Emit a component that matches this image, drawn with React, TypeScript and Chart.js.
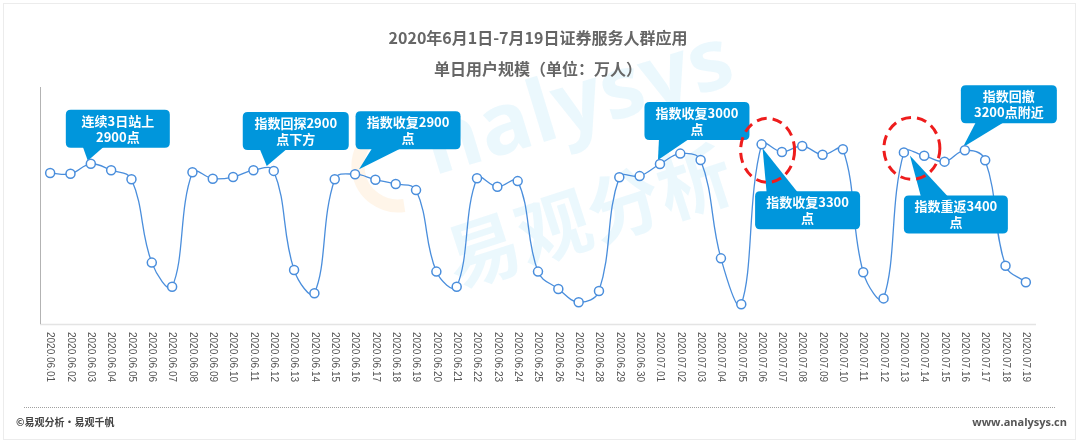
import React, { useEffect, useRef } from "react";
import { Chart, registerables } from "chart.js";

Chart.register(...registerables);

// ---------------- data ----------------
const categories = [
  "2020.06.01", "2020.06.02", "2020.06.03", "2020.06.04", "2020.06.05", "2020.06.06", "2020.06.07",
  "2020.06.08", "2020.06.09", "2020.06.10", "2020.06.11", "2020.06.12", "2020.06.13", "2020.06.14",
  "2020.06.15", "2020.06.16", "2020.06.17", "2020.06.18", "2020.06.19", "2020.06.20", "2020.06.21",
  "2020.06.22", "2020.06.23", "2020.06.24", "2020.06.25", "2020.06.26", "2020.06.27", "2020.06.28",
  "2020.06.29", "2020.06.30", "2020.07.01", "2020.07.02", "2020.07.03", "2020.07.04", "2020.07.05",
  "2020.07.06", "2020.07.07", "2020.07.08", "2020.07.09", "2020.07.10", "2020.07.11", "2020.07.12",
  "2020.07.13", "2020.07.14", "2020.07.15", "2020.07.16", "2020.07.17", "2020.07.18", "2020.07.19",
];

// 单日用户规模（万人）
const dailyUsers = [
  637, 634, 676, 649, 611, 259, 157,
  640, 613, 620, 649, 646, 228, 130,
  611, 632, 609, 591, 565, 221, 157,
  615, 579, 603, 221, 148, 92, 139,
  619, 624, 675, 719, 692, 277, 83,
  758, 726, 751, 714, 737, 218, 108,
  724, 710, 685, 733, 691, 246, 176,
];

const titleText = "2020年6月1日-7月19日证券服务人群应用";
const subtitleText = "单日用户规模（单位：万人）";

const calloutTexts = [
  ["连续3日站上", "2900点"],
  ["指数回探2900", "点下方"],
  ["指数收复2900", "点"],
  ["指数收复3000", "点"],
  ["指数回撤", "3200点附近"],
  ["指数收复3300", "点"],
  ["指数重返3400", "点"],
];
const calloutDates = [
  "2020.06.03", "2020.06.12", "2020.06.16", "2020.07.01",
  "2020.07.16", "2020.07.06", "2020.07.13",
];
const circledDates = ["2020.07.06", "2020.07.13"];

const footerLeft = "©易观分析·易观千帆";
const footerRight = "www.analysys.cn";
const watermarkLatin = "nalysys";
const watermarkCJK = "易观分析";

// ---------------- layout / style ----------------
const W = 1080;
const H = 445;
const LINE_COLOR = "#4a8edc";
const BOX_COLOR = "#0096dc";
const CJK = '"Noto Sans CJK SC", "Noto Sans", sans-serif';

// box offsets relative to the target point
const calloutLayout = [
  { cx: 27, top: -54, w: 104, side: "bottom", base: [-8, 13], tip: [-3, -3] },
  { cx: 22, top: -59, w: 106, side: "bottom", base: [-14, 13], tip: [-7, -5] },
  { cx: 53, top: -63, w: 105, side: "bottom", base: [17, 46], tip: [4, -5] },
  { cx: 37, top: -62, w: 105, side: "bottom", base: [-1, 29], tip: [-2, -4] },
  { cx: 44, top: -65, w: 96, side: "bottom", base: [11, 39], tip: [-2, -3] },
  { cx: 46, top: 47, w: 105, side: "top", base: [5, 36], tip: [1, 4] },
  { cx: 52, top: 43, w: 104, side: "top", base: [17, 44], tip: [6, 3] },
];
const BOX_H = 38;
const circleLayout = [
  { dx: 6, dy: 6, rx: 27, ry: 32 },
  { dx: 8, dy: -4, rx: 28, ry: 31 },
];

function roundRect(ctx: CanvasRenderingContext2D, x: number, y: number, w: number, h: number, r: number) {
  ctx.beginPath();
  ctx.moveTo(x + r, y);
  ctx.lineTo(x + w - r, y);
  ctx.quadraticCurveTo(x + w, y, x + w, y + r);
  ctx.lineTo(x + w, y + h - r);
  ctx.quadraticCurveTo(x + w, y + h, x + w - r, y + h);
  ctx.lineTo(x + r, y + h);
  ctx.quadraticCurveTo(x, y + h, x, y + h - r);
  ctx.lineTo(x, y + r);
  ctx.quadraticCurveTo(x, y, x + r, y);
  ctx.closePath();
}

const decorPlugin = {
  id: "decor",
  beforeDraw(chart: any) {
    const ctx: CanvasRenderingContext2D = chart.ctx;
    const area = chart.chartArea;
    ctx.save();
    ctx.fillStyle = "#ffffff";
    ctx.fillRect(0, 0, W, H);
    // frame
    ctx.strokeStyle = "#ececec";
    ctx.lineWidth = 1;
    ctx.strokeRect(3.5, 3.5, W - 8, H - 9);

    // watermark
    ctx.strokeStyle = "rgba(255,160,40,0.10)";
    ctx.lineWidth = 13;
    ctx.beginPath();
    ctx.arc(398, 166, 40, Math.PI * 0.45, Math.PI * 1.2);
    ctx.stroke();

    ctx.fillStyle = "rgba(0,160,233,0.08)";
    ctx.save();
    ctx.translate(452, 153);
    ctx.rotate((-17 * Math.PI) / 180);
    ctx.font = 'bold 86px "Open Sans", "DejaVu Sans", sans-serif';
    ctx.textBaseline = "middle";
    ctx.textAlign = "left";
    ctx.fillText(watermarkLatin, -24, -8);
    ctx.restore();

    ctx.save();
    ctx.translate(483, 250);
    ctx.rotate((-18 * Math.PI) / 180);
    ctx.font = "bold 74px " + CJK;
    ctx.textBaseline = "middle";
    ctx.textAlign = "left";
    ctx.fillText(watermarkCJK, -37, 0);
    ctx.restore();

    // axes lines
    ctx.strokeStyle = "#e4e4e4";
    ctx.lineWidth = 1.5;
    ctx.beginPath();
    ctx.moveTo(area.left, area.bottom + 0.5);
    ctx.lineTo(area.right, area.bottom + 0.5);
    ctx.stroke();
    ctx.strokeStyle = "#b3b3b3";
    ctx.lineWidth = 1;
    ctx.beginPath();
    ctx.moveTo(area.left + 0.5, area.top);
    ctx.lineTo(area.left + 0.5, area.bottom);
    ctx.stroke();
    ctx.restore();
  },
  afterDatasetDraw(chart: any, args: any) {
    if (args.index !== 0) return;
    const ctx: CanvasRenderingContext2D = chart.ctx;
    const xs = chart.scales.x;
    const ys = chart.scales.y;
    ctx.save();
    calloutDates.forEach((d, k) => {
      const i = categories.indexOf(d);
      const px = xs.getPixelForValue(i);
      const py = ys.getPixelForValue(dailyUsers[i]);
      const L = calloutLayout[k];
      const left = px + L.cx - L.w / 2;
      const top = py + L.top;
      ctx.fillStyle = BOX_COLOR;
      roundRect(ctx, left, top, L.w, BOX_H, 5);
      ctx.fill();
      const edgeY = L.side === "bottom" ? top + BOX_H - 1 : top + 1;
      ctx.beginPath();
      ctx.moveTo(px + L.base[0], edgeY);
      ctx.lineTo(px + L.base[1], edgeY);
      ctx.lineTo(px + L.tip[0], py + L.tip[1]);
      ctx.closePath();
      ctx.fill();
      ctx.fillStyle = "#ffffff";
      ctx.font = "bold 13px " + CJK;
      ctx.textAlign = "center";
      ctx.textBaseline = "middle";
      const cx = left + L.w / 2;
      ctx.fillText(calloutTexts[k][0], cx, top + 11);
      ctx.fillText(calloutTexts[k][1], cx, top + 27);
    });
    // red dashed circles
    ctx.strokeStyle = "#ee1c1c";
    ctx.lineWidth = 3;
    ctx.setLineDash([10, 6]);
    circledDates.forEach((d, k) => {
      const i = categories.indexOf(d);
      const px = xs.getPixelForValue(i);
      const py = ys.getPixelForValue(dailyUsers[i]);
      const c = circleLayout[k];
      ctx.beginPath();
      ctx.ellipse(px + c.dx, py + c.dy, c.rx, c.ry, 0, 0, Math.PI * 2);
      ctx.stroke();
    });
    ctx.setLineDash([]);
    ctx.restore();
  },
  afterDraw(chart: any) {
    const ctx: CanvasRenderingContext2D = chart.ctx;
    const area = chart.chartArea;
    const xs = chart.scales.x;
    ctx.save();
    // titles
    ctx.fillStyle = "#666666";
    ctx.font = "bold 16px " + CJK;
    ctx.textAlign = "center";
    ctx.textBaseline = "middle";
    ctx.fillText(titleText, 538, 38);
    ctx.fillText(subtitleText, 538, 69);

    // x labels (rotated clockwise, reading downward)
    ctx.fillStyle = "#555555";
    ctx.font = '10px "Liberation Sans", Arial, sans-serif';
    ctx.textAlign = "left";
    ctx.textBaseline = "middle";
    categories.forEach((c, i) => {
      const x = xs.getPixelForValue(i);
      ctx.save();
      ctx.translate(x, area.bottom + 8);
      ctx.rotate(Math.PI / 2);
      ctx.fillText(c, 0, 0);
      ctx.restore();
    });

    // footer
    ctx.strokeStyle = "#a0a0a0";
    ctx.lineWidth = 1;
    ctx.setLineDash([1, 1]);
    ctx.beginPath();
    ctx.moveTo(24, 407.5);
    ctx.lineTo(1056, 407.5);
    ctx.stroke();
    ctx.setLineDash([]);
    ctx.fillStyle = "#444444";
    ctx.font = "bold 10px " + CJK;
    ctx.textAlign = "left";
    ctx.fillText(footerLeft, 16, 422);
    ctx.fillStyle = "#555555";
    ctx.font = 'bold 11px "Open Sans", "DejaVu Sans", sans-serif';
    ctx.textAlign = "right";
    ctx.fillText(footerRight, 1067, 423);
    ctx.restore();
  },
};

export default function App() {
  const ref = useRef<HTMLCanvasElement | null>(null);
  useEffect(() => {
    if (!ref.current) return;
    const chart = new Chart(ref.current, {
      type: "line",
      data: {
        labels: categories,
        datasets: [
          {
            label: "line",
            data: dailyUsers,
            borderColor: LINE_COLOR,
            borderWidth: 1.3,
            tension: 0.4,
            pointRadius: 0,
            fill: false,
            order: 2,
            clip: false as any,
          },
          {
            label: "points",
            data: dailyUsers,
            showLine: false,
            pointRadius: 4.5,
            pointBorderWidth: 1.5,
            pointBackgroundColor: "#ffffff",
            pointBorderColor: LINE_COLOR,
            order: 1,
            clip: false as any,
          },
        ],
      },
      options: {
        responsive: false,
        animation: false,
        layout: { padding: { left: 40, right: 44, top: 87, bottom: 121 } },
        plugins: {
          legend: { display: false },
          title: { display: false },
          tooltip: { enabled: false },
        },
        scales: {
          x: { display: false, offset: true },
          y: { display: false, min: 0, max: 1000 },
        },
      },
      plugins: [decorPlugin],
    });
    return () => chart.destroy();
  }, []);
  return (
    <div style={{ width: W, height: H }}>
      <style>{"body{margin:0}"}</style>
      <canvas ref={ref} width={W} height={H} style={{ width: W, height: H, display: "block" }} />
    </div>
  );
}
